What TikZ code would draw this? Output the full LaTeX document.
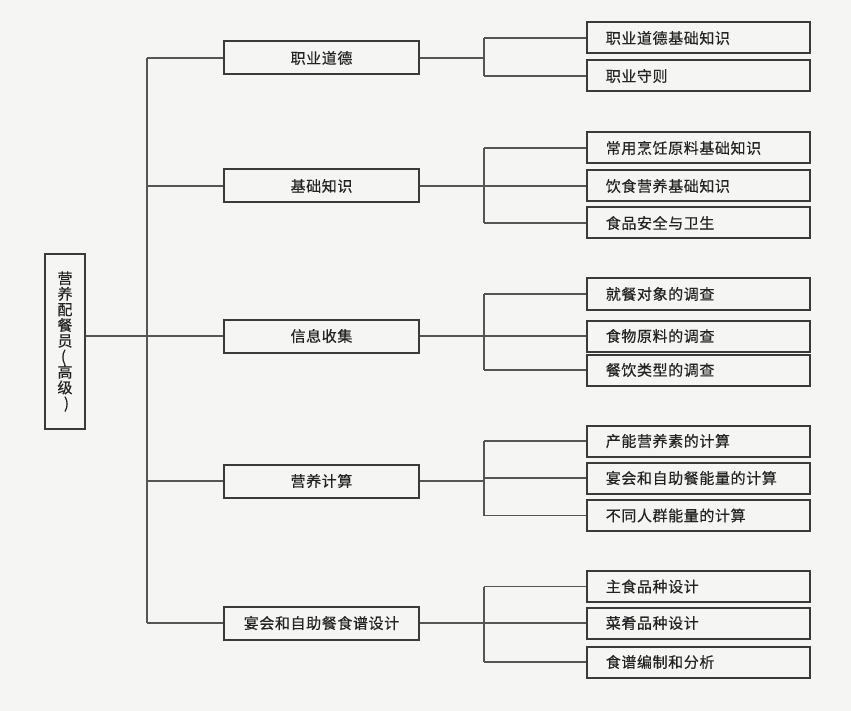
\documentclass[tikz,border=0pt]{standalone}
\usepackage{fontspec}
\setmainfont{Noto Sans CJK SC}[LetterSpace=4,FakeBold=0.4]
\definecolor{paper}{RGB}{245,245,243}
\definecolor{boxc}{RGB}{58,58,58}
\definecolor{linec}{RGB}{85,85,85}
\definecolor{txt}{RGB}{35,35,35}
\tikzset{
  lvlone/.style={draw=boxc, line width=2pt, minimum width=195pt, minimum height=33pt, inner sep=0pt,
    font=\fontsize{15}{17}\selectfont, text=txt},
  lvltwo/.style={draw=boxc, line width=2pt, minimum height=31pt, inner xsep=19pt, inner ysep=0pt,
    text width=185pt, align=left, font=\fontsize{15}{17}\selectfont, text=txt},
  rootbox/.style={draw=boxc, line width=2pt, minimum width=40pt, minimum height=175pt, inner sep=0pt,
    align=center, font=\fontsize{15}{15.6}\selectfont, text=txt},
  conn/.style={draw=linec, line width=1.2pt}
}
\begin{document}
\begin{tikzpicture}[x=1pt,y=-1pt]
\useasboundingbox[fill=paper] (0,0) rectangle (851,711);
\coordinate (trunk) at (147,0);
\coordinate (br) at (484,0);

\node[rootbox] (root) at (65,341.5) {营\\养\\配\\餐\\员\\\hspace*{-3pt}(\\高\\级\\)\hspace*{-3pt}};

\node[lvlone] (b1) at (321.5,58) {职业道德};
\node[lvlone] (b2) at (321.5,186) {基础知识};
\node[lvlone] (b3) at (321.5,336) {信息收集};
\node[lvlone] (b4) at (321.5,481) {营养计算};
\node[lvlone] (b5) at (321.5,623) {宴会和自助餐食谱设计};

\node[lvltwo] (c11) at (698.3,38) {职业道德基础知识};
\node[lvltwo] (c12) at (698.3,76) {职业守则};

\node[lvltwo] (c21) at (698.3,148) {常用烹饪原料基础知识};
\node[lvltwo] (c22) at (698.3,186) {饮食营养基础知识};
\node[lvltwo] (c23) at (698.3,223) {食品安全与卫生};

\node[lvltwo] (c31) at (698.3,294) {就餐对象的调查};
\node[lvltwo] (c32) at (698.3,336) {食物原料的调查};
\node[lvltwo] (c33) at (698.3,370) {餐饮类型的调查};

\node[lvltwo] (c41) at (698.3,441) {产能营养素的计算};
\node[lvltwo] (c42) at (698.3,478) {宴会和自助餐能量的计算};
\node[lvltwo] (c43) at (698.3,515.5) {不同人群能量的计算};

\node[lvltwo] (c51) at (698.3,586.5) {主食品种设计};
\node[lvltwo] (c52) at (698.3,623) {菜肴品种设计};
\node[lvltwo] (c53) at (698.3,662) {食谱编制和分析};

% trunk
\draw[conn] (root.east |- b3.west) -- (b3.west);
\draw[conn] (trunk |- b1.west) -- (trunk |- b5.west);
\foreach \b in {b1,b2,b4,b5} \draw[conn] (trunk |- \b.west) -- (\b.west);

% branches
\draw[conn] (b1.east) -- (br |- b1.east);
\draw[conn] (br |- c11.west) -- (br |- c12.west);
\draw[conn] (br |- c11.west) -- (c11.west);
\draw[conn] (br |- c12.west) -- (c12.west);

\draw[conn] (b2.east) -- (c22.west);
\draw[conn] (br |- c21.west) -- (br |- c23.west);
\draw[conn] (br |- c21.west) -- (c21.west);
\draw[conn] (br |- c23.west) -- (c23.west);

\draw[conn] (b3.east) -- (c32.west);
\draw[conn] (br |- c31.west) -- (br |- c33.west);
\draw[conn] (br |- c31.west) -- (c31.west);
\draw[conn] (br |- c33.west) -- (c33.west);

\draw[conn] (b4.east) -- (br |- b4.east);
\draw[conn] (br |- c41.west) -- (br |- c43.west);
\draw[conn] (br |- c41.west) -- (c41.west);
\draw[conn] (br |- c42.west) -- (c42.west);
\draw[conn] (br |- c43.west) -- (c43.west);

\draw[conn] (b5.east) -- (c52.west);
\draw[conn] (br |- c51.west) -- (br |- c53.west);
\draw[conn] (br |- c51.west) -- (c51.west);
\draw[conn] (br |- c53.west) -- (c53.west);
\end{tikzpicture}
\end{document}
